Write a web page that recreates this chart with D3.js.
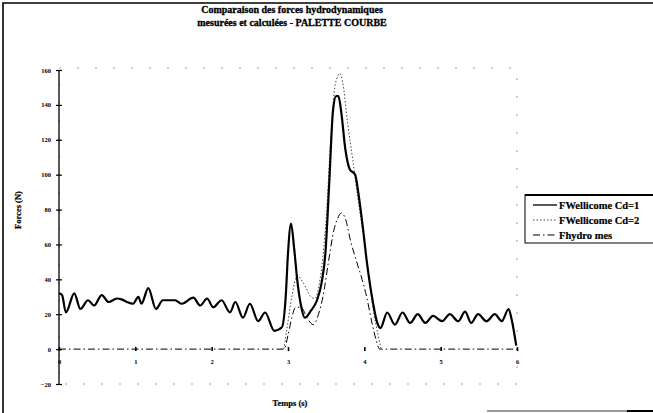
<!DOCTYPE html>
<html>
<head>
<meta charset="utf-8">
<script src="https://cdn.jsdelivr.net/npm/d3@7"></script>
<style>
  html, body { margin: 0; padding: 0; background: #fff; }
  svg { display: block; }
  text { font-family: "Liberation Serif", "DejaVu Serif", serif; font-weight: bold; fill: #000; }
</style>
</head>
<body>
<svg id="chart" width="653" height="413"></svg>
<script>
// Temps (s) et efforts (N) — FWellicome Cd=1
const timeCd1 = [0, 0.04, 0.09, 0.2, 0.28, 0.38, 0.46, 0.56, 0.65, 0.76, 0.82, 0.89, 0.97, 1.04, 1.08, 1.17, 1.27, 1.36,
  1.52, 1.61, 1.76, 1.85, 1.94, 2.02, 2.13, 2.24, 2.31, 2.41, 2.5, 2.61, 2.7, 2.82, 2.92, 2.97, 3.0, 3.04, 3.08, 3.12,
  3.17, 3.22, 3.3, 3.38, 3.44, 3.49, 3.54, 3.59, 3.63, 3.66, 3.7, 3.75, 3.81, 3.88, 3.92, 3.98, 4.03, 4.1, 4.17, 4.21,
  4.3, 4.4, 4.5, 4.6, 4.7, 4.8, 4.9, 5.02, 5.12, 5.23, 5.32, 5.4, 5.49, 5.6, 5.71, 5.8, 5.89, 5.93, 5.99];
const forceCd1 = [32, 31, 21, 32, 23, 28, 25, 31, 27, 29, 28.5, 27, 26, 30, 26, 35, 23, 28,
  28, 26, 29.5, 25, 29, 24, 28, 21, 27, 18, 26, 16, 21, 10.5, 12.5, 30, 55, 72, 58, 40,
  25, 18, 22, 28, 38, 55, 95, 137, 145, 145, 135, 115, 103, 100, 90, 70, 51, 30, 15, 12,
  21, 14, 21, 15, 20, 15, 19, 16, 20, 16, 21.5, 15, 20, 16, 20, 16, 23, 17, 2];

// FWellicome Cd=2
const timeCd2 = [2.9, 2.94, 2.98, 3.05, 3.12, 3.2, 3.3, 3.35, 3.42, 3.5, 3.56, 3.62, 3.68, 3.72, 3.78, 3.85, 3.92,
  4.0, 4.05, 4.12, 4.18, 4.22];
const forceCd2 = [0, 0, 10, 30, 42, 38, 30, 29, 40, 75, 120, 152, 158, 152, 130, 108, 85,
  62, 45, 22, 8, 0];

// Fhydro mes
const timeMes = [0, 2.9, 2.95, 3.0, 3.05, 3.1, 3.17, 3.25, 3.33, 3.4, 3.47, 3.53, 3.6, 3.65, 3.7, 3.75, 3.82, 3.9,
  3.97, 4.03, 4.1, 4.15, 4.2, 6];
const forceMes = [0, 0, 0, 8, 18, 24, 24, 18, 14, 20, 33, 50, 68, 75, 78, 75, 62, 50,
  40, 30, 15, 6, 0, 0];

const yTicks = [-20, 0, 20, 40, 60, 80, 100, 120, 140, 160];
const xTicks = [0, 1, 2, 3, 4, 5, 6];
const titleLines = ["Comparaison des forces hydrodynamiques", "mesurées et calculées - PALETTE COURBE"];
const legendLabels = ["FWellicome Cd=1", "FWellicome Cd=2", "Fhydro mes"];

const svg = d3.select("#chart");

const x = d3.scaleLinear().domain([0, 6]).range([59, 517]);
const y = d3.scaleLinear().domain([-20, 160]).range([384, 70]);

// Page frame
svg.append("path")
  .attr("d", "M3,413 L3,3 L653,3")
  .attr("fill", "none").attr("stroke", "#000").attr("stroke-width", 1.6);
svg.append("line").attr("x1", 487).attr("x2", 627).attr("y1", 411).attr("y2", 411)
  .attr("stroke", "#000").attr("stroke-width", 0.8);
svg.append("line").attr("x1", 627).attr("x2", 653).attr("y1", 411).attr("y2", 411)
  .attr("stroke", "#000").attr("stroke-width", 2);

// Faint plot-area border
svg.append("rect")
  .attr("x", x(0)).attr("y", y(160) - 2)
  .attr("width", x(6) - x(0)).attr("height", y(-20) - y(160) + 2)
  .attr("fill", "none").attr("stroke", "#777").attr("stroke-width", 0.7)
  .attr("stroke-dasharray", "2,16");

// Title
svg.append("text")
  .attr("x", 292).attr("y", 13)
  .attr("text-anchor", "middle").attr("font-size", 10)
  .attr("stroke", "#000").attr("stroke-width", 0.3)
  .selectAll("tspan").data(titleLines).join("tspan")
  .attr("x", 292).attr("dy", (d, i) => i === 0 ? 0 : 13)
  .text(d => d);

// Y axis
const yAxis = d3.axisLeft(y).tickValues(yTicks).tickSize(3).tickPadding(5).tickFormat(d3.format("d"));
const gy = svg.append("g").attr("transform", `translate(${x(0)},0)`).call(yAxis);
gy.select(".domain").attr("d", `M0,${y(160)}V${y(-20)}`).attr("stroke", "#000").attr("stroke-width", 1.3);
gy.selectAll(".tick line").attr("x1", -3).attr("x2", 3).attr("stroke-width", 1.2);
gy.selectAll(".tick text").attr("font-size", 6.5).attr("font-family", "Liberation Serif").attr("font-weight", "bold");

// X axis along zero
const xAxis = d3.axisBottom(x).tickValues(xTicks).tickSize(2).tickPadding(8).tickFormat(d3.format("d"));
const gx = svg.append("g").attr("transform", `translate(0,${y(0)})`).call(xAxis);
gx.select(".domain").remove();
gx.selectAll(".tick line").attr("y1", -2).attr("y2", 2).attr("stroke-width", 1.6);
gx.selectAll(".tick text").attr("font-size", 6.5).attr("font-family", "Liberation Serif").attr("font-weight", "bold");

// Axis titles
svg.append("text")
  .attr("transform", `translate(21,${(y(160) + y(-20)) / 2 - 17}) rotate(-90)`)
  .attr("text-anchor", "middle").attr("font-size", 8.5)
  .attr("stroke", "#000").attr("stroke-width", 0.2)
  .text("Forces (N)");
svg.append("text")
  .attr("x", 290).attr("y", 406)
  .attr("text-anchor", "middle").attr("font-size", 8.5)
  .attr("stroke", "#000").attr("stroke-width", 0.2)
  .text("Temps (s)");

// Series
const line = d3.line().x(d => x(d[0])).y(d => y(d[1])).curve(d3.curveMonotoneX);
const series = [
  { label: legendLabels[0], pts: d3.zip(timeCd1, forceCd1), stroke: "#000", width: 2.2, dash: null },
  { label: legendLabels[1], pts: d3.zip(timeCd2, forceCd2), stroke: "#444", width: 1, dash: "1.5,2" },
  { label: legendLabels[2], pts: d3.zip(timeMes, forceMes), stroke: "#000", width: 1, dash: "7,3,1.5,3" }
];

svg.append("g").selectAll("path").data(series.slice().reverse()).join("path")
  .attr("d", d => line(d.pts))
  .attr("fill", "none")
  .attr("stroke", d => d.stroke)
  .attr("stroke-width", d => d.width)
  .attr("stroke-dasharray", d => d.dash)
  .attr("stroke-linejoin", "round");

// Legend
const lg = svg.append("g").attr("transform", "translate(525,195)");
lg.append("rect").attr("x", 0).attr("y", 0).attr("width", 140).attr("height", 48)
  .attr("fill", "#fff").attr("stroke", "#000").attr("stroke-width", 1);
lg.append("line").attr("x1", 0).attr("x2", 128).attr("y1", 0).attr("y2", 0)
  .attr("stroke", "#000").attr("stroke-width", 1.8);
const item = lg.selectAll("g.item").data(series).join("g")
  .attr("class", "item")
  .attr("transform", (d, i) => `translate(0,${10 + i * 15})`);
item.append("line").attr("x1", 8).attr("x2", 32).attr("y1", 0).attr("y2", 0)
  .attr("stroke", d => d.stroke)
  .attr("stroke-width", d => Math.min(d.width, 1.3))
  .attr("stroke-dasharray", d => d.dash);
item.append("text").attr("x", 34).attr("y", 3.5).attr("font-size", 10.5)
  .attr("stroke", "#000").attr("stroke-width", 0.2)
  .text(d => d.label);
</script>
</body>
</html>
